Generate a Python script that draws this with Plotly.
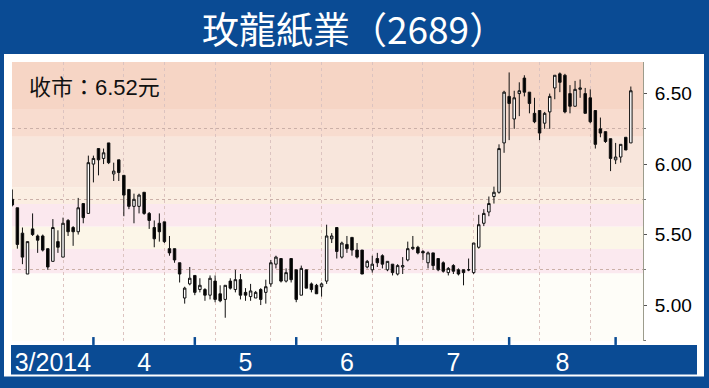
import pandas as pd
import plotly.graph_objects as go

# ---- data -------------------------------------------------------------
# HKEX trading days 10 Mar 2014 - 4 Sep 2014 (weekdays less exchange holidays)
hk_holidays = ["2014-04-18", "2014-04-21", "2014-05-01", "2014-05-06",
               "2014-06-02", "2014-07-01"]
dates = [d for d in pd.bdate_range("2014-03-10", "2014-09-04")
         if d.strftime("%Y-%m-%d") not in hk_holidays]

open_ = [5.75, 5.69, 5.51, 5.22, 5.54, 5.49, 5.49, 5.40, 5.31, 5.45,
         5.34, 5.60, 5.55, 5.52, 5.72, 5.65, 6.00, 6.11, 6.04, 6.15,
         5.93, 6.03, 5.92, 5.82, 5.70, 5.70, 5.80, 5.65, 5.55, 5.58,
         5.59, 5.40, 5.40, 5.30, 5.05, 5.15, 5.21, 5.11, 5.11, 5.07,
         5.17, 5.08, 5.04, 5.17, 5.11, 5.18, 5.09, 5.06, 5.05, 5.11,
         5.09, 5.15, 5.29, 5.33, 5.17, 5.33, 5.25, 5.07, 5.25, 5.15,
         5.14, 5.13, 5.17, 5.47, 5.55, 5.34, 5.43, 5.48, 5.39, 5.39,
         5.27, 5.25, 5.33, 5.35, 5.25, 5.29, 5.22, 5.27, 5.32, 5.40,
         5.41, 5.38, 5.30, 5.37, 5.33, 5.30, 5.23, 5.28, 5.25, 5.25,
         5.25, 5.23, 5.41, 5.58, 5.66, 5.77, 5.80, 6.15, 6.48, 6.32,
         6.50, 6.61, 6.51, 6.36, 6.38, 6.29, 6.37, 6.54, 6.64, 6.63,
         6.50, 6.41, 6.53, 6.50, 6.47, 6.38, 6.25, 6.23, 6.18, 6.03,
         6.05, 6.19, 6.15]
high = [5.82, 5.69, 5.55, 5.45, 5.65, 5.50, 5.50, 5.40, 5.61, 5.53,
        5.62, 5.61, 5.56, 5.76, 5.72, 6.06, 6.06, 6.11, 6.11, 6.15,
        6.01, 6.03, 5.92, 5.82, 5.79, 5.79, 5.80, 5.66, 5.60, 5.65,
        5.59, 5.49, 5.40, 5.30, 5.13, 5.27, 5.21, 5.19, 5.12, 5.21,
        5.21, 5.14, 5.14, 5.19, 5.25, 5.22, 5.12, 5.15, 5.10, 5.12,
        5.18, 5.32, 5.35, 5.33, 5.26, 5.33, 5.25, 5.28, 5.25, 5.16,
        5.15, 5.16, 5.57, 5.51, 5.55, 5.45, 5.49, 5.48, 5.44, 5.39,
        5.32, 5.35, 5.37, 5.36, 5.31, 5.29, 5.29, 5.34, 5.45, 5.49,
        5.42, 5.39, 5.38, 5.37, 5.33, 5.31, 5.27, 5.29, 5.26, 5.25,
        5.33, 5.44, 5.64, 5.68, 5.77, 5.84, 6.14, 6.52, 6.65, 6.52,
        6.58, 6.63, 6.51, 6.47, 6.38, 6.37, 6.50, 6.63, 6.65, 6.64,
        6.56, 6.59, 6.60, 6.54, 6.53, 6.38, 6.33, 6.23, 6.18, 6.15,
        6.14, 6.19, 6.55]
low = [5.70, 5.40, 5.29, 5.22, 5.49, 5.37, 5.38, 5.25, 5.31, 5.37,
       5.34, 5.49, 5.42, 5.50, 5.58, 5.65, 5.87, 5.92, 6.00, 6.00,
       5.88, 5.88, 5.63, 5.68, 5.58, 5.65, 5.64, 5.54, 5.41, 5.45,
       5.44, 5.35, 5.30, 5.16, 5.01, 5.14, 5.07, 5.09, 5.03, 5.04,
       5.02, 5.02, 4.91, 5.11, 5.09, 5.04, 5.03, 5.03, 5.05, 5.00,
       5.01, 5.13, 5.26, 5.16, 5.16, 5.16, 5.02, 5.07, 5.12, 5.09,
       5.08, 5.06, 5.15, 5.44, 5.33, 5.33, 5.37, 5.35, 5.33, 5.22,
       5.26, 5.23, 5.27, 5.26, 5.24, 5.21, 5.21, 5.22, 5.31, 5.39,
       5.36, 5.32, 5.26, 5.25, 5.24, 5.23, 5.21, 5.22, 5.21, 5.14,
       5.24, 5.22, 5.40, 5.56, 5.63, 5.72, 5.79, 6.08, 6.17, 6.25,
       6.34, 6.48, 6.36, 6.29, 6.17, 6.25, 6.25, 6.46, 6.51, 6.36,
       6.36, 6.41, 6.47, 6.36, 6.29, 6.11, 6.19, 6.15, 5.95, 6.00,
       6.01, 6.10, 6.15]
close = [5.71, 5.43, 5.34, 5.45, 5.50, 5.46, 5.39, 5.27, 5.55, 5.41,
         5.58, 5.52, 5.52, 5.69, 5.62, 6.01, 6.04, 6.03, 6.08, 6.01,
         5.95, 5.94, 5.78, 5.70, 5.75, 5.78, 5.65, 5.60, 5.47, 5.52,
         5.45, 5.37, 5.32, 5.22, 5.12, 5.19, 5.09, 5.14, 5.07, 5.19,
         5.04, 5.03, 5.14, 5.12, 5.18, 5.07, 5.07, 5.10, 5.09, 5.04,
         5.13, 5.30, 5.34, 5.17, 5.23, 5.18, 5.04, 5.26, 5.12, 5.11,
         5.08, 5.15, 5.49, 5.49, 5.38, 5.44, 5.40, 5.39, 5.34, 5.22,
         5.31, 5.29, 5.30, 5.29, 5.31, 5.23, 5.28, 5.28, 5.40, 5.41,
         5.37, 5.37, 5.37, 5.28, 5.25, 5.24, 5.26, 5.24, 5.22, 5.23,
         5.25, 5.44, 5.57, 5.65, 5.72, 5.80, 6.11, 6.51, 6.43, 6.47,
         6.52, 6.51, 6.43, 6.30, 6.22, 6.36, 6.48, 6.63, 6.58, 6.37,
         6.41, 6.53, 6.54, 6.36, 6.30, 6.14, 6.22, 6.16, 6.04, 6.05,
         6.14, 6.10, 6.52]

month_labels = ["3/2014", "4", "5", "6", "7", "8"]
price_ticks = [5.00, 5.50, 6.00, 6.50]
minor_ticks = [4.75, 5.25, 5.75, 6.25]
grid_days = [10, 22, 30, 40, 51, 61, 71, 81, 91, 104, 114]

# price-level shading of the plot background (edges and fills, bottom to top)
band_edges = [4.70, 5.226, 5.398, 5.558, 5.717, 5.835, 6.194, 6.391, 6.80]
band_colors = ["#fefdf8", "#fbe9ef", "#fcf6e8", "#fbe8ee", "#fbeee2",
               "#f8e6dc", "#f8dccf", "#f6d5c5"]

title_text = "玫龍紙業（2689）"
last_close_text = "收市：6.52元"

# ---- layout helpers ----------------------------------------------------
W, H = 709, 388
L, R, T, B = 12, 66, 62, 43
pw, ph = W - L - R, H - T - B
BLUE = "#0a4b94"


def px_x(xp):
    return (xp - L) / pw


def px_y(yp):
    return (H - B - yp) / ph


x = list(range(len(dates)))
month_ids = [d.month for d in dates]
month_starts = [i for i in x if i == 0 or month_ids[i] != month_ids[i - 1]]
# labels sit midway between consecutive month starts
month_centers = [(a + b) / 2 for a, b in zip(month_starts[:-1], month_starts[1:])]
tick_days = month_starts[1:]

fig = go.Figure()
fig.add_trace(go.Candlestick(
    x=x, open=open_, high=high, low=low, close=close,
    increasing=dict(line=dict(color="#111111", width=1), fillcolor="#ffffff"),
    decreasing=dict(line=dict(color="#111111", width=1), fillcolor="#000000"),
    whiskerwidth=0, showlegend=False, hoverinfo="skip",
))

shapes = [dict(type="rect", xref="paper", yref="paper",
               x0=px_x(4), x1=px_x(704), y0=px_y(381), y1=px_y(54),
               fillcolor="#ffffff", line=dict(width=0), layer="below")]
for k, c in enumerate(band_colors):
    shapes.append(dict(type="rect", xref="paper", yref="y", x0=0, x1=1,
                       y0=band_edges[k], y1=band_edges[k + 1],
                       fillcolor=c, line=dict(width=0), layer="below"))
shapes.append(dict(type="rect", xref="paper", yref="paper",
                   x0=px_x(11), x1=px_x(697), y0=px_y(379), y1=px_y(349),
                   fillcolor=BLUE, line=dict(width=0), layer="below"))
for d in tick_days:
    shapes.append(dict(type="line", xref="x", yref="paper", x0=d, x1=d,
                       y0=px_y(349), y1=px_y(341),
                       line=dict(color=BLUE, width=2.5), layer="below"))

fig.update_layout(
    width=W, height=H,
    margin=dict(l=L, r=R, t=T, b=B, pad=0),
    paper_bgcolor=BLUE, plot_bgcolor="#fefdf8",
    font=dict(family="Liberation Sans, Arial, Noto Sans CJK TC", color="#000000"),
    shapes=shapes,
    xaxis=dict(
        range=[-0.06, 124.4], rangeslider=dict(visible=False),
        tickmode="array", tickvals=month_centers, ticktext=month_labels,
        ticks="", showgrid=False, zeroline=False, showline=False,
        tickfont=dict(size=25, color="#ffffff"), ticklabelstandoff=4,
        minor=dict(tickmode="array", tickvals=grid_days, ticks="",
                   showgrid=True, gridcolor="#dcc3c0", griddash="dot",
                   gridwidth=1),
    ),
    yaxis=dict(
        side="right", range=[4.745, 6.724],
        tickmode="array", tickvals=price_ticks,
        ticktext=[f"{v:.2f}" for v in price_ticks],
        ticks="outside", ticklen=3, tickcolor="#555555", tickwidth=1,
        showgrid=False, zeroline=False,
        showline=True, linecolor="#9c9c8c", linewidth=1,
        tickfont=dict(size=19, color="#000000"), ticklabelstandoff=4,
        minor=dict(tickmode="array", tickvals=minor_ticks, ticks="outside",
                   ticklen=2, tickcolor="#777777",
                   showgrid=True, gridcolor="#cbb0a8", griddash="dot",
                   gridwidth=1),
    ),
    annotations=[
        dict(text=title_text, xref="paper", yref="paper",
             x=px_x(354), y=px_y(28), xanchor="center", yanchor="middle",
             showarrow=False,
             font=dict(size=37, color="#ffffff",
                       family="Noto Sans CJK TC, Liberation Sans")),
        dict(text=last_close_text, xref="paper", yref="paper",
             x=px_x(27), y=px_y(88), xanchor="left", yanchor="middle",
             showarrow=False,
             font=dict(size=22, color="#111111",
                       family="Liberation Sans, Noto Sans CJK TC")),
    ],
)

fig.write_html("out.html")
